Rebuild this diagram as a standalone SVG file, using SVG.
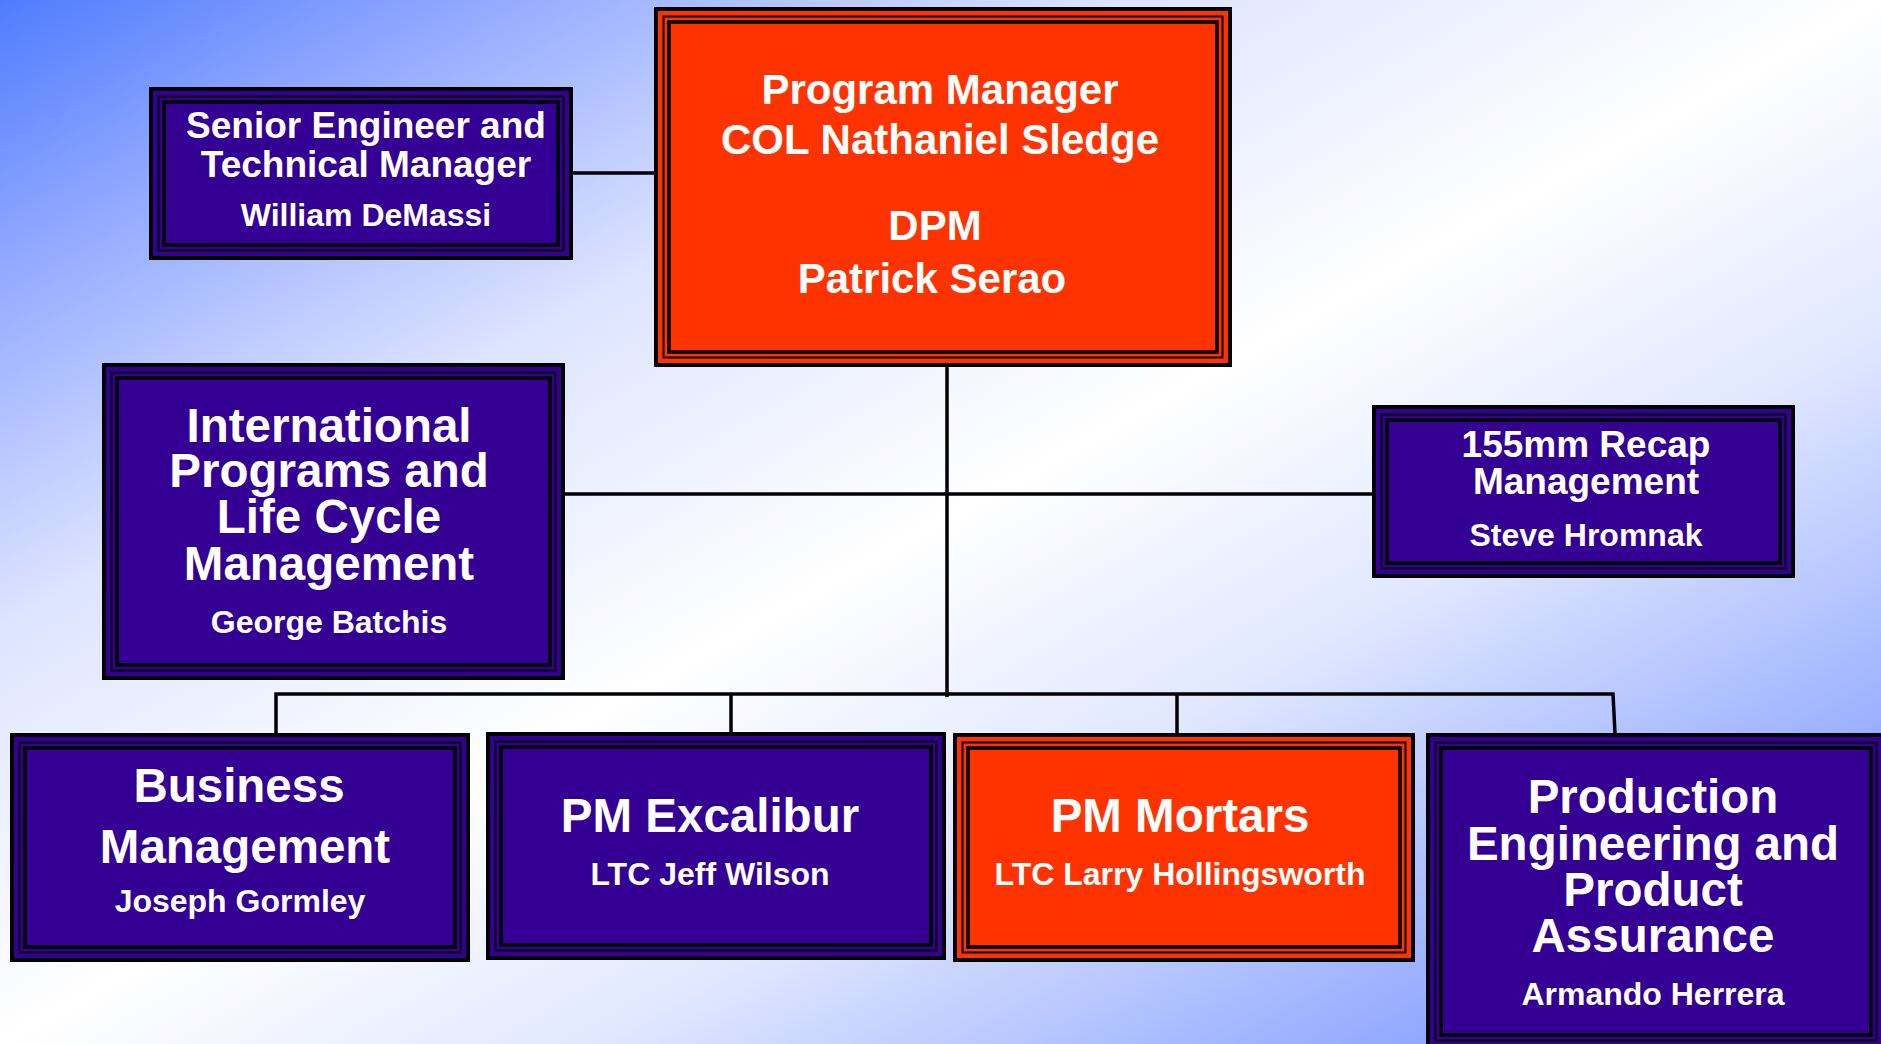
<svg xmlns="http://www.w3.org/2000/svg" width="1881" height="1044" viewBox="0 0 1881 1044">
<defs>
<linearGradient id="bg" x1="0" y1="0" x2="1" y2="1">
<stop offset="0" stop-color="#4f7cff"/>
<stop offset="0.12" stop-color="#8ea6ff"/>
<stop offset="0.3" stop-color="#dde4ff"/>
<stop offset="0.5" stop-color="#ffffff"/>
<stop offset="0.66" stop-color="#e0e7ff"/>
<stop offset="0.84" stop-color="#9db2ff"/>
<stop offset="1" stop-color="#6686ff"/>
</linearGradient>
<style>
.o{stroke:#000;stroke-width:4}
.m{fill:none;stroke:#000;stroke-width:2}
.i{fill:none;stroke:#000;stroke-width:3.6}
.p{fill:#340094}
.r{fill:#ff3300}
.t{font-family:"Liberation Sans",Arial,sans-serif;font-weight:bold;fill:#fff;text-anchor:middle}
.big{font-size:47.5px}
.pm{font-size:42px}
.mid{font-size:37px}
.nm{font-size:32px}
.c{fill:none;stroke:#000;stroke-width:3.5}
</style>
</defs>
<rect x="0" y="0" width="1881" height="1044" fill="url(#bg)"/>
<g id="connectors">
<path class="c" d="M571 173H656"/>
<path class="c" d="M947 365V697"/>
<path class="c" d="M563 494H1372"/>
<path class="c" d="M276 733V694H1613L1615 733"/>
<path class="c" d="M731 694V732"/>
<path class="c" d="M1177 694V733"/>
</g>
<g id="program-manager">
<rect class="o r" x="656" y="9" width="574" height="356"/>
<rect class="m" x="663.5" y="16.5" width="559" height="341"/>
<rect class="i" x="669" y="22" width="548" height="330"/>
<text class="t pm" x="940" y="104">Program Manager</text>
<text class="t pm" x="940" y="154">COL Nathaniel Sledge</text>
<text class="t pm" x="935" y="240">DPM</text>
<text class="t pm" x="932" y="293">Patrick Serao</text>
</g>
<g id="senior-engineer">
<rect class="o p" x="151" y="89" width="420" height="169"/>
<rect class="m" x="158.5" y="96.5" width="405" height="154"/>
<rect class="i" x="164" y="102" width="394" height="143"/>
<text class="t mid" x="366" y="138">Senior Engineer and</text>
<text class="t mid" x="366" y="177">Technical Manager</text>
<text class="t nm" x="366" y="226">William DeMassi</text>
</g>
<g id="international-programs">
<rect class="o p" x="104" y="365" width="459" height="313"/>
<rect class="m" x="111.5" y="372.5" width="444" height="298"/>
<rect class="i" x="117" y="378" width="433" height="287"/>
<text class="t big" x="329" y="442">International</text>
<text class="t big" x="329" y="487">Programs and</text>
<text class="t big" x="329" y="533">Life Cycle</text>
<text class="t big" x="329" y="580">Management</text>
<text class="t nm" x="329" y="633">George Batchis</text>
</g>
<g id="recap-155mm">
<rect class="o p" x="1374" y="407" width="419" height="169"/>
<rect class="m" x="1381.5" y="414.5" width="404" height="154"/>
<rect class="i" x="1387" y="420" width="393" height="143"/>
<text class="t mid" x="1586" y="457">155mm Recap</text>
<text class="t mid" x="1586" y="494">Management</text>
<text class="t nm" x="1586" y="546">Steve Hromnak</text>
</g>
<g id="business-management">
<rect class="o p" x="12" y="735" width="456" height="225"/>
<rect class="m" x="19.5" y="742.5" width="441" height="210"/>
<rect class="i" x="25" y="748" width="430" height="199"/>
<text class="t big" x="239" y="802">Business</text>
<text class="t big" x="245" y="863">Management</text>
<text class="t nm" x="240" y="912">Joseph Gormley</text>
</g>
<g id="pm-excalibur">
<rect class="o p" x="488" y="734" width="456" height="224"/>
<rect class="m" x="495.5" y="741.5" width="441" height="209"/>
<rect class="i" x="501" y="747" width="430" height="198"/>
<text class="t big" x="710" y="832">PM Excalibur</text>
<text class="t nm" x="710" y="885">LTC Jeff Wilson</text>
</g>
<g id="pm-mortars">
<rect class="o r" x="955" y="735" width="458" height="225"/>
<rect class="m" x="962.5" y="742.5" width="443" height="210"/>
<rect class="i" x="968" y="748" width="432" height="199"/>
<text class="t big" x="1180" y="832">PM Mortars</text>
<text class="t nm" x="1180" y="885">LTC Larry Hollingsworth</text>
</g>
<g id="production-engineering">
<rect class="o p" x="1428" y="735" width="456" height="313"/>
<rect class="m" x="1435.5" y="742.5" width="441" height="298"/>
<rect class="i" x="1441" y="748" width="430" height="287"/>
<text class="t big" x="1653" y="813">Production</text>
<text class="t big" x="1653" y="860">Engineering and</text>
<text class="t big" x="1653" y="906">Product</text>
<text class="t big" x="1653" y="952">Assurance</text>
<text class="t nm" x="1653" y="1005">Armando Herrera</text>
</g>
</svg>
